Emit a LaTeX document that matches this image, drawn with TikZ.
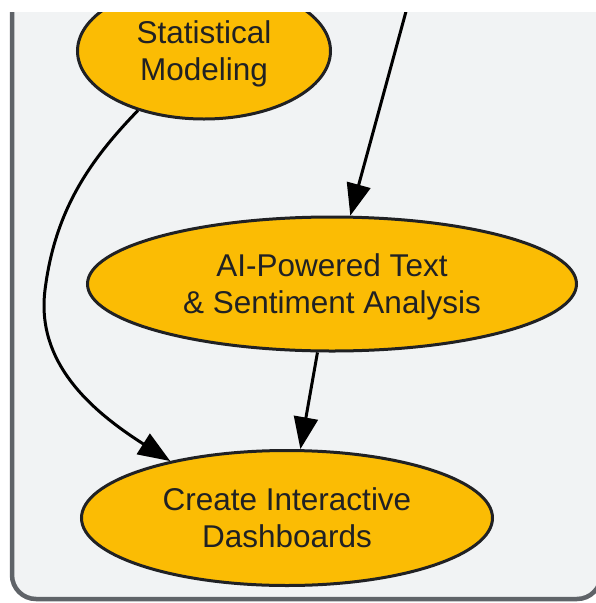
\documentclass[tikz,border=0pt]{standalone}
\usepackage{fontspec}
\setmainfont{Liberation Sans}
\usetikzlibrary{shapes.geometric,arrows.meta}

\definecolor{clusterfill}{HTML}{F1F3F4}
\definecolor{clusterline}{HTML}{5F6368}
\definecolor{taskfill}{HTML}{FBBC04}
\definecolor{inkdark}{HTML}{202124}

\tikzset{
  task/.style={ellipse, draw=inkdark, line width=3pt, fill=taskfill,
    text=inkdark, align=center, inner sep=0pt, text depth=0pt,
    font=\fontsize{31.5}{37}\selectfont},
  flow/.style={draw=black, line width=3pt,
    -{Triangle[length=32pt,width=24pt]}},
}

\begin{document}
\begin{tikzpicture}[x=1pt,y=-1pt]
    \useasboundingbox (0,0) rectangle (596,603);
    \begin{scope}
        \clip (0,12) rectangle (596,603);

        % cluster box (cut off at top and right)
        \draw[clusterline, fill=clusterfill, line width=4.5pt, rounded corners=24pt]
            (12,-40) rectangle (601,599);

        % the three tasks
        \node[task, minimum width=253pt, minimum height=136pt] (stat) at (204,51) {Statistical\\Modeling};
        \node[task, minimum width=489pt, minimum height=134pt] (ai) at (332,284) {AI-Powered Text\\\& Sentiment Analysis};
        \node[task, minimum width=411pt, minimum height=135pt] (dash) at (287,518) {Create Interactive\\Dashboards};

        % incoming edge from above the frame
        \coordinate (upstream) at (414.6,-20);
        \draw[flow] (upstream) -- (ai.75);

        \draw[flow] (ai.258.5) -- (dash.79);

        % long bend on the left
        \draw[flow] (stat.222) .. controls (90,160) and (55,210) .. (45,290)
            .. controls (36,362) and (90,410) .. (dash.154);
    \end{scope}
\end{tikzpicture}
\end{document}
